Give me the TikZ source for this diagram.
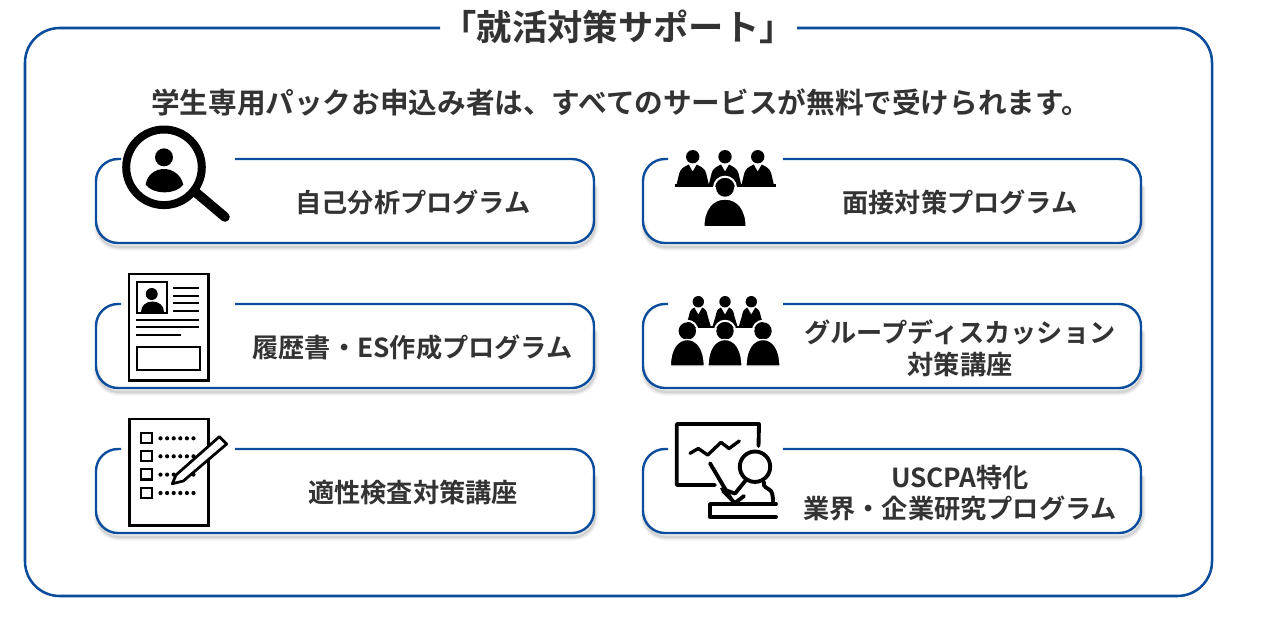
\documentclass[tikz,border=0pt]{standalone}
\usepackage{fontspec}
\setmainfont{Noto Sans CJK JP}[BoldFont=* Bold]
\definecolor{frameblue}{HTML}{0B4C9C}
\definecolor{ink}{HTML}{333333}
\tikzset{
  x=0.75pt,y=-0.75pt,
  frameline/.style={draw=frameblue,line width=1.9pt},
  cardline/.style={draw=frameblue,line width=1.8pt,rounded corners=16.5pt},
  cardshade/.style={draw=black,rounded corners=16.5pt},
  cardtext/.style={text=ink,font=\fontsize{19.65pt}{24pt}\selectfont\bfseries,align=center,inner sep=0pt},
  iconline/.style={draw=black,line width=2.05pt},
  thinline/.style={draw=black,line width=1.7pt},
  boldline/.style={draw=black,line width=2.9pt,line cap=round,line join=round},
  halo/.style={draw=white,line width=1.5pt,fill=black},
}
\newcommand{\cardbox}[6]{%
  \foreach \w/\o in {6pt/.025,4.5pt/.035,3pt/.05,1.5pt/.07}{
    \draw[cardshade,line width=\w,opacity=\o,line cap=round]
      ([shift={(1,4)}]#3,{#2+25}) -- ([shift={(1,4)}]#3,#4) -- ([shift={(1,4)}]#1,#4) -- ([shift={(1,4)}]#1,{#4-21});
  }
  \draw[cardline] (#6,#2) -- (#3,#2) -- (#3,#4) -- (#1,#4) -- (#1,#2) -- (#5,#2);
}
\newcommand{\bust}[5][black]{%
  \fill[#1] ({#2-#4},#3) .. controls ({#2-#4},{#3-1.25*#5}) and ({#2+#4},{#3-1.25*#5}) .. ({#2+#4},#3) -- cycle;
}
% seated suit: centre x, top y, bottom y, half width
\newcommand{\suit}[4]{%
  \fill[black] ({#1-#4},#3) -- ({#1-#4+3},{#2+9}) .. controls ({#1-#4+4},{#2+4}) and ({#1-8},{#2+2}) .. ({#1-4},#2)
     -- (#1,{#2+7}) -- ({#1+4},#2) .. controls ({#1+8},{#2+2}) and ({#1+#4-4},{#2+4}) .. ({#1+#4-3},{#2+9}) -- ({#1+#4},#3) -- cycle;
}
% front figure dome: centre x, top y, bottom y, half width
\newcommand{\dome}[4]{%
  \draw[white,line width=1pt,fill=black] ({#1-#4},#3) .. controls ({#1-#4},{#3-0.62*(#3-#2)}) and ({#1-0.6*#4},#2) .. (#1,#2)
     .. controls ({#1+0.6*#4},#2) and ({#1+#4},{#3-0.62*(#3-#2)}) .. ({#1+#4},#3) -- cycle;
}
\begin{document}
\begin{tikzpicture}
\useasboundingbox (0,0) rectangle (1280,622);
\fill[white] (0,0) rectangle (1280,622);

% outer frame
\draw[frameline,rounded corners=26pt] (797,28) -- (1212,28) -- (1212,596) -- (25,596) -- (25,28) -- (440,28);
\node[text=ink,font=\fontsize{26.5pt}{30pt}\selectfont\bfseries,inner sep=0pt] (title) at (618,27) {「就活対策サポート」};
\node[text=ink,font=\fontsize{21.47pt}{26pt}\selectfont\bfseries,inner sep=0pt] (lead) at (620.5,102) {学生専用パックお申込み者は、すべてのサービスが無料で受けられます。};

% cards
\cardbox{96}{159}{594}{243}{121}{235}
\cardbox{96}{304}{594}{388}{121}{235}
\cardbox{96}{449}{594}{533}{121}{235}
\cardbox{643}{159}{1141}{243}{668}{783}
\cardbox{643}{304}{1141}{388}{668}{783}
\cardbox{643}{449}{1141}{533}{668}{783}

\node[cardtext] (t1) at (413,202) {自己分析プログラム};
\node[cardtext] (t2) at (412.5,348) {履歴書・ES作成プログラム};
\node[cardtext] (t3) at (413,493) {適性検査対策講座};
\node[cardtext] (t4) at (960,202) {面接対策プログラム};
\node[cardtext,text width=340pt] (t5) at (960,348) {グループディスカッション\\[-0.2pt]対策講座};
\node[cardtext,text width=340pt] (t6) at (960,493) {USCPA特化\\[-0.2pt]業界・企業研究プログラム};

% icon 1: magnifier
\draw[black,line width=6pt] (164,167.3) circle (37.8);
\draw[black,line width=7.2pt,line cap=round] (195,191.7) -- (225,217);
\fill[black] (164,157.3) circle (9);
\fill[black] (145.7,184.5) .. controls (147,175) and (155,169) .. (164,169) .. controls (173,169) and (181,175) .. (183.3,184.5)
  .. controls (176,195) and (153,195) .. (145.7,184.5) -- cycle;

% icon 2: resume
\draw[iconline,fill=white] (129,274) rectangle (208.3,380.7);
\draw[thinline] (137.3,282) rectangle (166.7,312.7);
\fill[black] (151.7,294) circle (6);
\bust{152.5}{312}{11.3}{11.5}
\foreach \yy in {288,295.7,303,310.7}{\draw[thinline] (173.3,\yy) -- (199,\yy);}
\draw[thinline] (136,320.3) -- (199.3,320.3);
\draw[thinline] (136,327.3) -- (199.3,327.3);
\draw[thinline] (136,335) -- (180.7,335);
\draw[thinline] (136.7,347.3) rectangle (200.3,370.3);

% icon 3: checklist
\draw[iconline,fill=white] (129.3,419) rectangle (208.7,525.7);
\foreach \yy in {433,451,469.3,487.7}{
  \draw[thinline] (141.3,\yy) rectangle (152,{\yy+10.3});
  \foreach \xx in {0,1,2,3,4,5}{\fill[black] ({160.5+\xx*6.6},{\yy+5.3}) circle (2.1);}
}
\draw[iconline,fill=white,line join=round] (172.3,483.7) -- (176,475) -- (219.3,436.7) -- (226.7,444) -- (183.3,481) -- cycle;

% icon 4: interview
\foreach \cx in {692.7,725,757.7}{
  \fill[black] (\cx,156.7) circle (6.7);
  \suit{\cx}{164.5}{186}{16.5}
}
\fill[black] (674.5,183.5) rectangle (775.5,187.3);
\draw[white,line width=1.5pt] (725,187.7) circle (11);
\fill[black] (725,187.7) circle (9);
\dome{725}{199}{226.7}{21.2}

% icon 5: group discussion
\foreach \cx in {698.3,725,751.3}{
  \fill[black] (\cx,301.7) circle (5.7);
  \suit{\cx}{307.5}{326.5}{12.5}
}
\fill[black] (695,325.5) rectangle (755,327.5);
\foreach \cx in {687.3,725,763}{
  \draw[white,line width=1.5pt] (\cx,331) circle (10.2);
  \fill[black] (\cx,331) circle (8.7);
  \dome{\cx}{339.5}{366}{17}
}

% icon 6: lecture
\draw[boldline] (758.5,446) -- (759,424) -- (676.7,424) -- (676.7,485) -- (715,485);
\draw[black,line width=2.5pt,line cap=round,line join=round] (690,453.3) -- (698.3,448.5) -- (707.7,455) -- (721,442.3) -- (729,448.5) -- (739.3,441);
\draw[boldline] (710,463.3) -- (731.7,500);
\draw[boldline] (755,466.7) circle (15.2);
\draw[boldline]
  (746,480) -- (735,493.5) -- (722,489) (723,491) -- (735,503) -- (744,496)
  (764,482) .. controls (762,487) and (768,488) .. (771,491) .. controls (773,495) and (773,498) .. (773,504);
\draw[boldline] (776,504) -- (710,504) -- (710,516.7) -- (776,516.7);
\end{tikzpicture}
\end{document}
